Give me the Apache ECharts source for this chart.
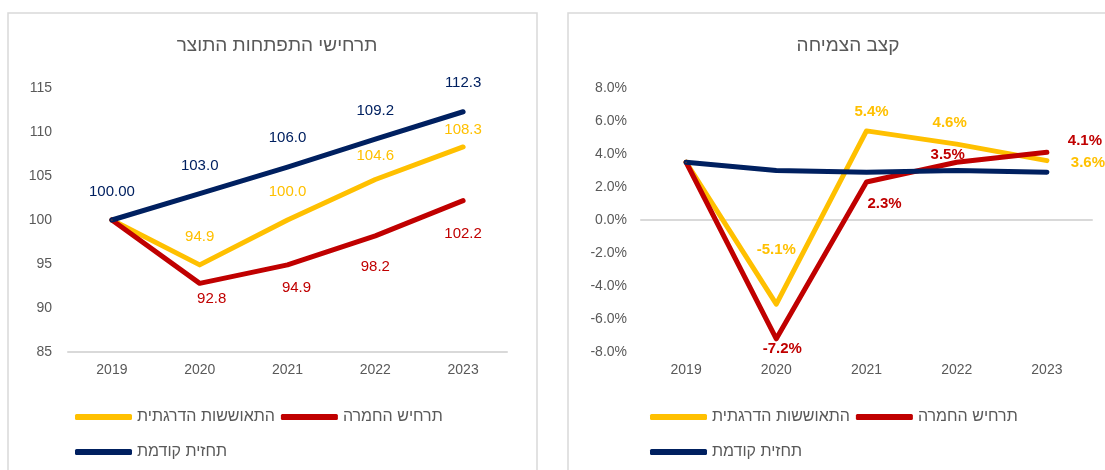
<!DOCTYPE html>
<html>
<head>
<meta charset="utf-8">
<script src="https://cdn.jsdelivr.net/npm/echarts@6/dist/echarts.min.js"></script>
<style>
  body { margin: 0; background: #fff; }
  #chart { width: 1105px; height: 470px; }
</style>
</head>
<body>
<div id="chart"></div>
<script>
const years = ['2019', '2020', '2021', '2022', '2023'];
const seriesNames = ['התאוששות הדרגתית', 'תרחיש החמרה', 'תחזית קודמת'];
const titles = ['תרחישי התפתחות התוצר', 'קצב הצמיחה'];

// רמת התוצר (2019 = 100)
const levelGradual = [100, 94.9, 100.0, 104.6, 108.3];
const levelSevere = [100, 92.8, 94.9, 98.2, 102.2];
const levelPrevious = [100, 103.0, 106.0, 109.2, 112.3];

// קצב הצמיחה, באחוזים
const growthGradual = [3.5, -5.1, 5.4, 4.6, 3.6];
const growthSevere = [3.5, -7.2, 2.3, 3.5, 4.1];
const growthPrevious = [3.5, 3.0, 2.9, 3.0, 2.9];

const colors = ['#FFC000', '#C00000', '#002060'];
const gray = '#595959';
const font = '"Liberation Sans", "DejaVu Sans", sans-serif';

// label offsets from the point (null = no label)
const offLeft = [
  [null, [0, -28], [0, -28], [0, -24], [0, -17]],
  [null, [12, 15], [9, 23], [0, 31], [0, 33]],
  [[0, -28], [0, -28], [0, -29], [0, -28], [0, -29]]
];
const offRight = [
  [null, [0, -54], [5, -19], [-7, -21], [41, 2]],
  [null, [6, 10], [18, 22], [-9, -7], [38, -11]],
  [null, null, null, null, null]
];

function points(values, offs) {
  return values.map((v, i) => offs[i]
    ? { value: v, label: { show: true, offset: offs[i] } }
    : { value: v, label: { show: false } });
}

function lineSeries(idx, values, offs, grid, fmt, bold) {
  return {
    name: seriesNames[idx],
    type: 'line',
    xAxisIndex: grid === 0 ? 0 : 1,
    yAxisIndex: grid,
    data: points(values, offs),
    symbol: 'circle',
    symbolSize: 1,
    color: colors[idx],
    lineStyle: { width: 5, cap: 'round', join: 'round', color: colors[idx] },
    label: {
      position: 'inside',
      color: colors[idx],
      fontSize: 15,
      fontWeight: bold ? 'bold' : 'normal',
      fontFamily: font,
      formatter: fmt
    },
    emphasis: { disabled: true },
    animation: false
  };
}

const fmtLevel = p => p.dataIndex === 0 ? p.value.toFixed(2) : p.value.toFixed(1);
const fmtGrowth = p => p.value.toFixed(1) + '%';

const axisLabelStyle = { color: gray, fontSize: 14, fontFamily: font };
const legendText = { color: gray, fontSize: 16, fontFamily: font };

function legend(left, top, names) {
  return {
    left: left, top: top, data: names,
    icon: 'roundRect', itemWidth: 57, itemHeight: 6, itemGap: 6,
    textStyle: legendText
  };
}

const chart = echarts.init(document.getElementById('chart'));
chart.setOption({
  animation: false,
  graphic: [
    { type: 'rect', shape: { x: 8, y: 13, width: 529, height: 480 },
      style: { fill: 'none', stroke: '#d9d9d9', lineWidth: 1.5 }, silent: true },
    { type: 'rect', shape: { x: 568, y: 13, width: 560, height: 480 },
      style: { fill: 'none', stroke: '#d9d9d9', lineWidth: 1.5 }, silent: true }
  ],
  title: [
    { text: titles[0], left: 272, top: 31, textAlign: 'center',
      textStyle: { color: gray, fontSize: 19, fontWeight: 'normal', fontFamily: font } },
    { text: titles[1], left: 843, top: 31, textAlign: 'center',
      textStyle: { color: gray, fontSize: 19, fontWeight: 'normal', fontFamily: font } }
  ],
  legend: [
    legend(70, 404, [seriesNames[0], seriesNames[1]]),
    legend(70, 439, [seriesNames[2]]),
    legend(645, 404, [seriesNames[0], seriesNames[1]]),
    legend(645, 439, [seriesNames[2]])
  ],
  grid: [
    { left: 68, top: 88, width: 439, height: 264 },
    { left: 641, top: 88, width: 451, height: 264 }
  ],
  xAxis: [
    { type: 'category', gridIndex: 0, data: years, boundaryGap: true,
      axisLine: { lineStyle: { color: '#d9d9d9', width: 2 } },
      axisTick: { show: false },
      axisLabel: Object.assign({ margin: 11 }, axisLabelStyle) },
    { type: 'category', gridIndex: 1, data: years, boundaryGap: true,
      axisLine: { show: false, onZero: false },
      axisTick: { show: false },
      axisLabel: Object.assign({ margin: 11 }, axisLabelStyle) },
    // zero line of the growth chart
    { type: 'category', gridIndex: 1, data: years, position: 'top', boundaryGap: true,
      axisLine: { onZero: true, lineStyle: { color: '#d9d9d9', width: 2 } },
      axisTick: { show: false }, axisLabel: { show: false } }
  ],
  yAxis: [
    { type: 'value', gridIndex: 0, min: 85, max: 115, interval: 5,
      axisLine: { show: false }, axisTick: { show: false }, splitLine: { show: false },
      axisLabel: Object.assign({ margin: 16 }, axisLabelStyle) },
    { type: 'value', gridIndex: 1, min: -8, max: 8, interval: 2,
      axisLine: { show: false }, axisTick: { show: false }, splitLine: { show: false },
      axisLabel: Object.assign({ margin: 14, formatter: v => v.toFixed(1) + '%' }, axisLabelStyle) }
  ],
  series: [
    lineSeries(0, levelGradual, offLeft[0], 0, fmtLevel, false),
    lineSeries(1, levelSevere, offLeft[1], 0, fmtLevel, false),
    lineSeries(2, levelPrevious, offLeft[2], 0, fmtLevel, false),
    lineSeries(0, growthGradual, offRight[0], 1, fmtGrowth, true),
    lineSeries(1, growthSevere, offRight[1], 1, fmtGrowth, true),
    lineSeries(2, growthPrevious, offRight[2], 1, fmtGrowth, true)
  ]
});
</script>
</body>
</html>
